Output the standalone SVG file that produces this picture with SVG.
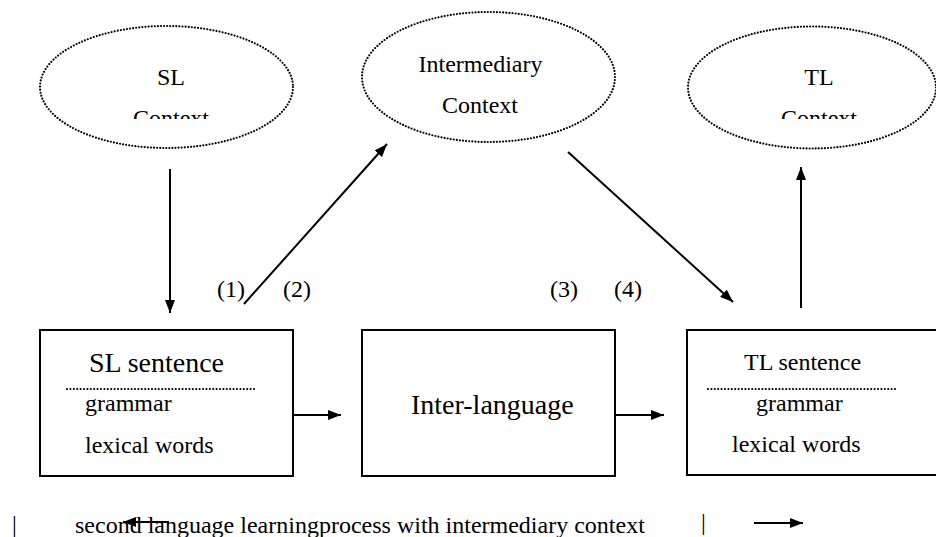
<svg xmlns="http://www.w3.org/2000/svg" width="936" height="537" viewBox="0 0 936 537" font-family="'Liberation Serif', 'Times New Roman', serif">
<style>
  text { font-family: 'Liberation Serif', 'Times New Roman', serif; fill: #000; }
  .t24 { font-size: 24px; }
  .t28 { font-size: 28px; }
  .mid { text-anchor: middle; }
  .ctx { fill: none; stroke: #000; stroke-width: 2.2; stroke-dasharray: 0 3.1; stroke-linecap: round; }
  .box { fill: #fff; stroke: #000; stroke-width: 2; }
  .dots { stroke: #000; stroke-width: 2.2; stroke-dasharray: 0 3.4; stroke-linecap: round; }
  .conn { stroke: #000; stroke-width: 2; fill: none; marker-end: url(#ah); }
</style>
<defs>
  <marker id="ah" markerUnits="userSpaceOnUse" markerWidth="14" markerHeight="10" refX="13" refY="5" orient="auto">
    <path d="M0,0 L13,5 L0,10 z" fill="#000"/>
  </marker>
  <clipPath id="clipTop"><rect x="0" y="0" width="936" height="119"/></clipPath>
</defs>
<rect width="936" height="537" fill="#fff"/>

<g id="sl-context">
  <ellipse class="ctx" cx="166.5" cy="87" rx="126.5" ry="61"/>
  <text class="t24 mid" x="171" y="85">SL</text>
  <text class="t24 mid" x="171" y="126" clip-path="url(#clipTop)">Context</text>
</g>

<g id="intermediary-context">
  <ellipse class="ctx" cx="488.5" cy="77" rx="126.5" ry="65"/>
  <text class="t24 mid" x="480.5" y="72">Intermediary</text>
  <text class="t24 mid" x="480" y="113">Context</text>
</g>

<g id="tl-context">
  <ellipse class="ctx" cx="812" cy="87.5" rx="124" ry="61"/>
  <text class="t24 mid" x="819" y="85">TL</text>
  <text class="t24 mid" x="819" y="126" clip-path="url(#clipTop)">Context</text>
</g>

<g id="sl-sentence">
  <rect class="box" x="40" y="330" width="253" height="146"/>
  <text class="t28" x="89" y="372">SL sentence</text>
  <line class="dots" x1="67" y1="389" x2="255" y2="389"/>
  <text class="t24" x="85" y="411">grammar</text>
  <text class="t24" x="85" y="453">lexical words</text>
</g>

<g id="inter-language">
  <rect class="box" x="362" y="330" width="253" height="146"/>
  <text class="t28" x="411" y="414">Inter-language</text>
</g>

<g id="tl-sentence">
  <rect class="box" x="687" y="330" width="260" height="145"/>
  <text class="t24" x="744" y="370">TL sentence</text>
  <line class="dots" x1="708" y1="389" x2="897" y2="389"/>
  <text class="t24" x="756" y="411">grammar</text>
  <text class="t24" x="732" y="452">lexical words</text>
</g>

<g id="connectors">
  <line class="conn" x1="170" y1="169" x2="170" y2="313"/>
  <line class="conn" x1="244" y1="304" x2="387" y2="144"/>
  <line class="conn" x1="568" y1="152" x2="733" y2="302"/>
  <line class="conn" x1="801" y1="308" x2="801" y2="167"/>
  <line class="conn" x1="293" y1="415" x2="341" y2="415"/>
  <line class="conn" x1="615" y1="415" x2="664" y2="415"/>
</g>

<g id="labels">
  <text class="t24" x="217" y="297">(1)</text>
  <text class="t24" x="283" y="297">(2)</text>
  <text class="t24" x="550" y="297">(3)</text>
  <text class="t24" x="614" y="297">(4)</text>
</g>

<g id="caption">
  <text class="t24" x="12" y="532">|</text>
  <text class="t24" x="75" y="533">second language learningprocess with intermediary context</text>
  <line class="conn" x1="169" y1="522" x2="123" y2="522"/>
  <text class="t24" x="701" y="530">|</text>
  <line class="conn" x1="754" y1="523" x2="803" y2="523"/>
</g>
</svg>
